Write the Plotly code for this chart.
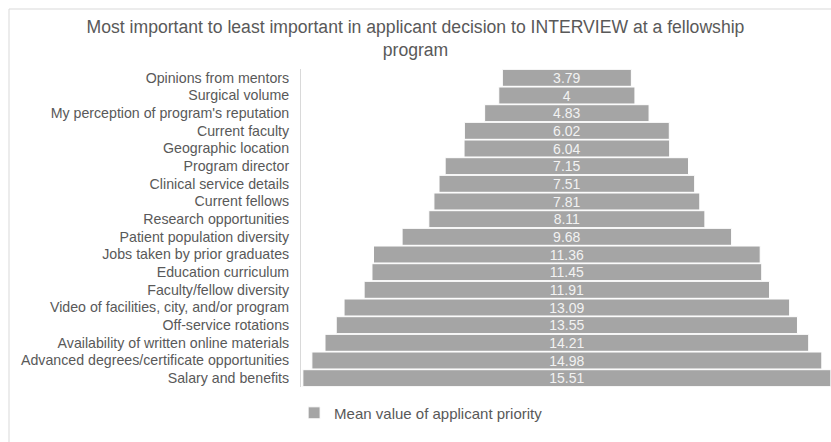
import plotly.graph_objects as go

# Factors ranked by mean priority (top = most important)
factors = [
    "Opinions from mentors",
    "Surgical volume",
    "My perception of program's reputation",
    "Current faculty",
    "Geographic location",
    "Program director",
    "Clinical service details",
    "Current fellows",
    "Research opportunities",
    "Patient population diversity",
    "Jobs taken by prior graduates",
    "Education curriculum",
    "Faculty/fellow diversity",
    "Video of facilities, city, and/or program",
    "Off-service rotations",
    "Availability of written online materials",
    "Advanced degrees/certificate opportunities",
    "Salary and benefits",
]
mean_values = [3.79, 4, 4.83, 6.02, 6.04, 7.15, 7.51, 7.81, 8.11, 9.68,
               11.36, 11.45, 11.91, 13.09, 13.55, 14.21, 14.98, 15.51]
series_name = "Mean value of applicant priority"
title_text = ("Most important to least important in applicant decision to "
              "INTERVIEW at a fellowship<br>program")

FONT = "Liberation Sans, Arial, sans-serif"
GREY = "#A5A5A5"
TEXT = "#595959"

# Centre each bar on zero so the chart reads as a funnel
bases = [-v / 2 for v in mean_values]

fig = go.Figure(
    go.Bar(
        y=factors,
        x=mean_values,
        base=bases,
        orientation="h",
        name=series_name,
        marker=dict(color=GREY, line=dict(color="white", width=1)),
        text=[f"{v:g}" for v in mean_values],
        textposition="inside",
        insidetextanchor="middle",
        textangle=0,
        textfont=dict(family=FONT, size=14, color="#F2F2F2"),
        showlegend=True,
        hoverinfo="skip",
    )
)

fig.update_layout(
    width=831,
    height=442,
    margin=dict(l=301, r=0, t=69, b=55),
    paper_bgcolor="white",
    plot_bgcolor="white",
    bargap=0.04,
    uniformtext=dict(minsize=14, mode="show"),
    font=dict(family=FONT, size=14, color=TEXT),
    title=dict(
        text=title_text,
        x=0.5,
        xref="container",
        xanchor="center",
        yref="container",
        y=1 - 33 / 442,
        yanchor="middle",
        font=dict(family=FONT, size=17.6, color=TEXT),
    ),
    xaxis=dict(
        range=[-7.81, 7.76],
        showgrid=False,
        zeroline=False,
        showticklabels=False,
        fixedrange=True,
    ),
    yaxis=dict(
        autorange="reversed",
        showline=True,
        linecolor="#D9D9D9",
        linewidth=1,
        showgrid=False,
        ticks="",
        ticklabelstandoff=8,
        tickfont=dict(family=FONT, size=14.2, color=TEXT),
    ),
    legend=dict(
        orientation="h",
        x=-0.013,
        xanchor="left",
        y=-0.082,
        yanchor="middle",
        font=dict(family=FONT, size=15, color=TEXT),
    ),
    shapes=[
        dict(
            type="rect",
            xref="paper",
            yref="paper",
            x0=(9 - 301) / 530,
            x1=1.1,
            y0=-0.3,
            y1=1 + 60 / 318,
            line=dict(color="#D9D9D9", width=1),
            fillcolor="rgba(0,0,0,0)",
            layer="below",
        )
    ],
)

fig.write_html("out.html")
